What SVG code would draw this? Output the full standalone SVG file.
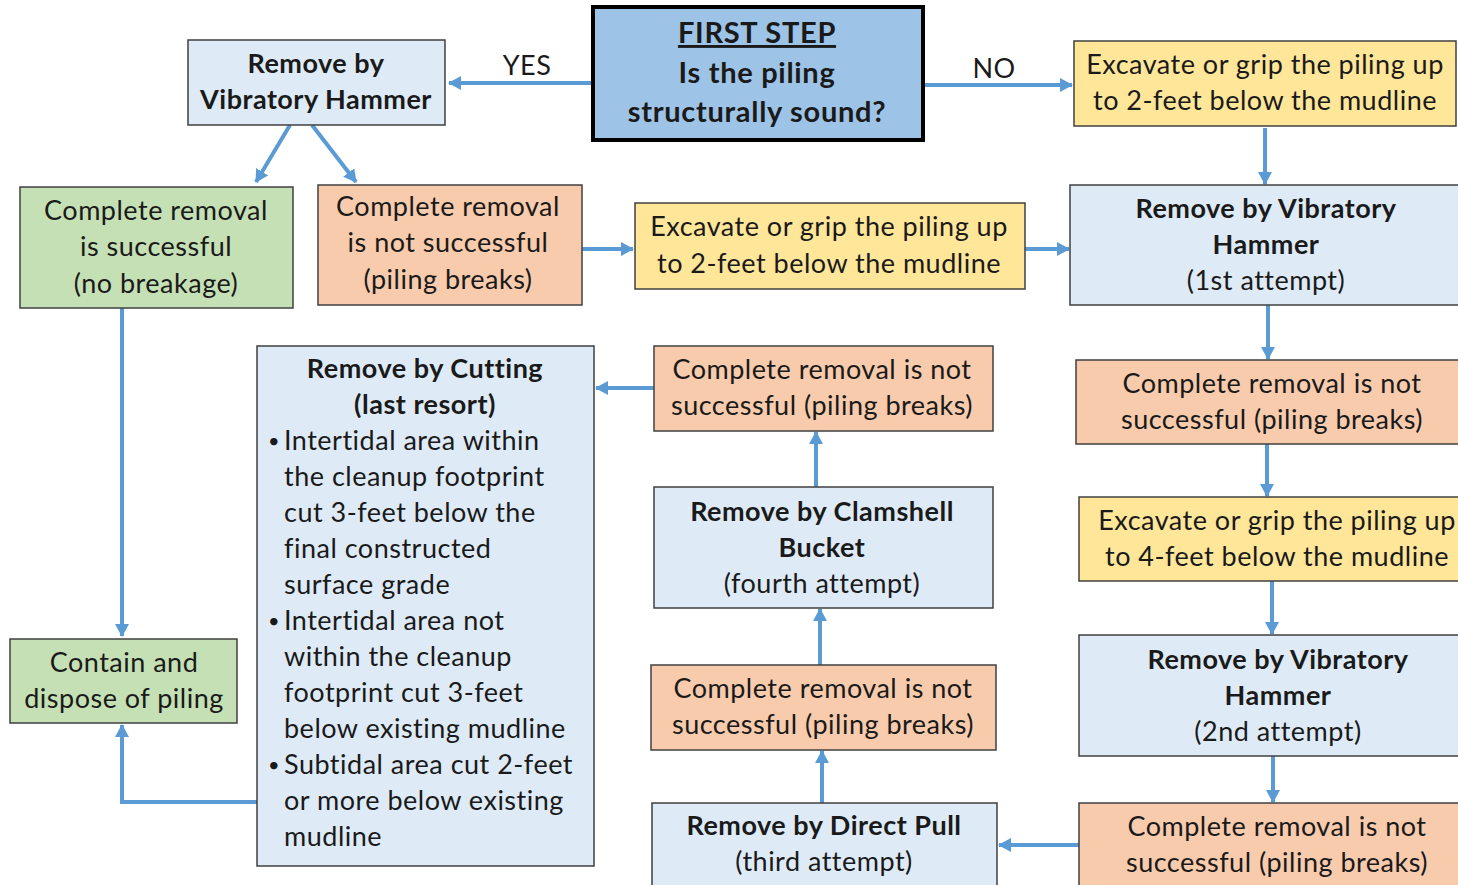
<svg xmlns="http://www.w3.org/2000/svg" width="1458" height="885" viewBox="0 0 1458 885">
  <style>
    .box { stroke: #404040; stroke-width: 1.5; }
    .blue { fill: #deebf7; }
    .green { fill: #c5e0b4; }
    .orange { fill: #f8cbad; }
    .yellow { fill: #ffe699; }
    .start { fill: #9dc3e6; stroke: #000; stroke-width: 4; }
    text { font-family: Lato, "Open Sans", "Liberation Sans", sans-serif; font-size: 27px; letter-spacing: 0.5px; fill: #1a1a1a; }
    .c { text-anchor: middle; }
    .b { font-weight: bold; }
    .big { font-size: 29px; font-weight: bold; letter-spacing: 0.7px; }
    .dot { font-size: 20px; letter-spacing: 0; }
    .conn { stroke: #5b9bd5; stroke-width: 4; fill: none; }
  </style>
  <defs>
    <marker id="arrow" markerUnits="userSpaceOnUse" markerWidth="14" markerHeight="14" viewBox="0 0 14 14" refX="12" refY="7" orient="auto">
      <path d="M0,0 L13,7 L0,14 Z" fill="#5b9bd5"/>
    </marker>
  </defs>
  <rect width="1458" height="885" fill="#ffffff"/>

  <!-- connectors -->
  <g id="connectors">
    <path class="conn" d="M593,83 H449" marker-end="url(#arrow)"/>
    <path class="conn" d="M923,85 H1072" marker-end="url(#arrow)"/>
    <path class="conn" d="M290,125 L256,182" marker-end="url(#arrow)"/>
    <path class="conn" d="M312,125 L356,182" marker-end="url(#arrow)"/>
    <path class="conn" d="M582,249 H633" marker-end="url(#arrow)"/>
    <path class="conn" d="M1025,249 H1069" marker-end="url(#arrow)"/>
    <path class="conn" d="M1265,128 V184" marker-end="url(#arrow)"/>
    <path class="conn" d="M1268,305 V359" marker-end="url(#arrow)"/>
    <path class="conn" d="M1267,444 V496" marker-end="url(#arrow)"/>
    <path class="conn" d="M1272,581 V634" marker-end="url(#arrow)"/>
    <path class="conn" d="M1273,756 V802" marker-end="url(#arrow)"/>
    <path class="conn" d="M1079,845 H999" marker-end="url(#arrow)"/>
    <path class="conn" d="M822,803 V751" marker-end="url(#arrow)"/>
    <path class="conn" d="M820,665 V609" marker-end="url(#arrow)"/>
    <path class="conn" d="M816,487 V432" marker-end="url(#arrow)"/>
    <path class="conn" d="M654,388 H596" marker-end="url(#arrow)"/>
    <path class="conn" d="M122,308 V636" marker-end="url(#arrow)"/>
    <path class="conn" d="M257,802 H122 V725" marker-end="url(#arrow)"/>
    <text x="527" y="75" class="c">YES</text>
    <text x="994" y="78" class="c">NO</text>
  </g>

  <!-- first step decision -->
  <g id="first-step">
    <rect class="start" x="593" y="7" width="330" height="133"/>
    <text x="757" y="43" class="c big" text-decoration="underline">FIRST STEP</text>
    <text x="757" y="83" class="c big">Is the piling</text>
    <text x="757" y="122" class="c big">structurally sound?</text>
  </g>

  <g id="vh-initial">
    <rect class="box blue" x="188" y="40" width="257" height="85"/>
    <text x="316" y="73" class="c b">Remove by</text>
    <text x="316" y="109" class="c b">Vibratory Hammer</text>
  </g>

  <g id="success">
    <rect class="box green" x="20" y="187" width="273" height="121"/>
    <text x="156" y="220" class="c">Complete removal</text>
    <text x="156" y="256" class="c">is successful</text>
    <text x="156" y="293" class="c">(no breakage)</text>
  </g>

  <g id="fail-initial">
    <rect class="box orange" x="318" y="185" width="264" height="120"/>
    <text x="448" y="216" class="c">Complete removal</text>
    <text x="448" y="252" class="c">is not successful</text>
    <text x="448" y="289" class="c">(piling breaks)</text>
  </g>

  <g id="excavate-mid">
    <rect class="box yellow" x="635" y="203" width="390" height="86"/>
    <text x="829" y="236" class="c">Excavate or grip the piling up</text>
    <text x="829" y="273" class="c">to 2-feet below the mudline</text>
  </g>

  <g id="excavate-top">
    <rect class="box yellow" x="1074" y="41" width="382" height="85"/>
    <text x="1265" y="74" class="c">Excavate or grip the piling up</text>
    <text x="1265" y="110" class="c">to 2-feet below the mudline</text>
  </g>

  <g id="vh-first">
    <rect class="box blue" x="1070" y="185" width="395" height="120"/>
    <text x="1266" y="218" class="c b">Remove by Vibratory</text>
    <text x="1266" y="254" class="c b">Hammer</text>
    <text x="1266" y="290" class="c">(1st attempt)</text>
  </g>

  <g id="fail-first">
    <rect class="box orange" x="1076" y="360" width="390" height="84"/>
    <text x="1272" y="393" class="c">Complete removal is not</text>
    <text x="1272" y="429" class="c">successful (piling breaks)</text>
  </g>

  <g id="excavate-four">
    <rect class="box yellow" x="1079" y="497" width="387" height="84"/>
    <text x="1277" y="530" class="c">Excavate or grip the piling up</text>
    <text x="1277" y="566" class="c">to 4-feet below the mudline</text>
  </g>

  <g id="vh-second">
    <rect class="box blue" x="1079" y="635" width="387" height="121"/>
    <text x="1278" y="669" class="c b">Remove by Vibratory</text>
    <text x="1278" y="705" class="c b">Hammer</text>
    <text x="1278" y="741" class="c">(2nd attempt)</text>
  </g>

  <g id="fail-second">
    <rect class="box orange" x="1079" y="803" width="387" height="90"/>
    <text x="1277" y="836" class="c">Complete removal is not</text>
    <text x="1277" y="872" class="c">successful (piling breaks)</text>
  </g>

  <g id="direct-pull">
    <rect class="box blue" x="652" y="803" width="345" height="90"/>
    <text x="824" y="835" class="c b">Remove by Direct Pull</text>
    <text x="824" y="871" class="c">(third attempt)</text>
  </g>

  <g id="fail-third">
    <rect class="box orange" x="651" y="665" width="345" height="85"/>
    <text x="823" y="698" class="c">Complete removal is not</text>
    <text x="823" y="734" class="c">successful (piling breaks)</text>
  </g>

  <g id="clamshell">
    <rect class="box blue" x="654" y="487" width="339" height="121"/>
    <text x="822" y="521" class="c b">Remove by Clamshell</text>
    <text x="822" y="557" class="c b">Bucket</text>
    <text x="822" y="593" class="c">(fourth attempt)</text>
  </g>

  <g id="fail-fourth">
    <rect class="box orange" x="654" y="346" width="339" height="85"/>
    <text x="822" y="379" class="c">Complete removal is not</text>
    <text x="822" y="415" class="c">successful (piling breaks)</text>
  </g>

  <g id="cutting">
    <rect class="box blue" x="257" y="346" width="337" height="520"/>
    <text x="425" y="378" class="c b">Remove by Cutting</text>
    <text x="425" y="414" class="c b">(last resort)</text>
    <text x="268" y="448" class="dot">•</text>
    <text x="284" y="450">Intertidal area within</text>
    <text x="284" y="486">the cleanup footprint</text>
    <text x="284" y="522">cut 3-feet below the</text>
    <text x="284" y="558">final constructed</text>
    <text x="284" y="594">surface grade</text>
    <text x="268" y="628" class="dot">•</text>
    <text x="284" y="630">Intertidal area not</text>
    <text x="284" y="666">within the cleanup</text>
    <text x="284" y="702">footprint cut 3-feet</text>
    <text x="284" y="738">below existing mudline</text>
    <text x="268" y="772" class="dot">•</text>
    <text x="284" y="774">Subtidal area cut 2-feet</text>
    <text x="284" y="810">or more below existing</text>
    <text x="284" y="846">mudline</text>
  </g>

  <g id="dispose">
    <rect class="box green" x="10" y="639" width="227" height="84"/>
    <text x="124" y="672" class="c">Contain and</text>
    <text x="124" y="708" class="c">dispose of piling</text>
  </g>
</svg>
